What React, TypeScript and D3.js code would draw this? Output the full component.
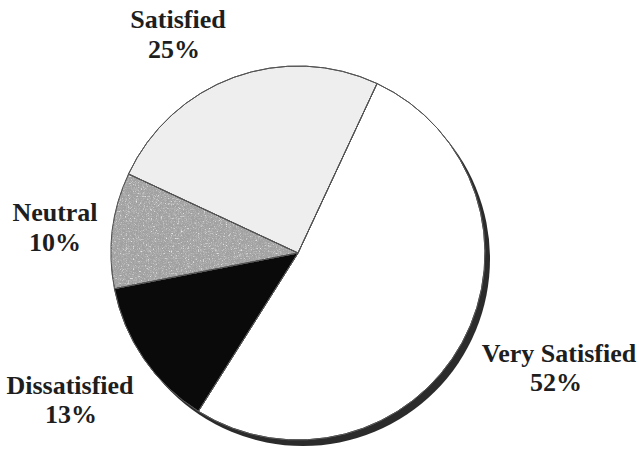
import React from "react";
import * as d3 from "d3";

const categories = ["Very Satisfied", "Dissatisfied", "Neutral", "Satisfied"];
const values = [52, 13, 10, 25];
const valueLabels = ["52%", "13%", "10%", "25%"];

const fills = ["#ffffff", "#0a0a0a", "#a0a0a0", "#eeeeee"];
// label anchor positions [name x, pct x, name baseline, pct baseline]
const labelLayout = [
  [559, 556, 362, 391],
  [70, 71, 394, 423],
  [55, 55, 221, 251],
  [178, 174, 28, 58],
];

const W = 639;
const H = 450;
const cx = 298;
const cy = 253;
const R = 187;

export default function App() {
  const start = (25 * Math.PI) / 180;
  const pie = d3
    .pie<number>()
    .sort(null)
    .value((d) => d)
    .startAngle(start)
    .endAngle(start + 2 * Math.PI);
  const arcs = pie(values);
  const arc = d3.arc<d3.PieArcDatum<number>>().innerRadius(0).outerRadius(R);

  return (
    <svg
      width={W}
      height={H}
      style={{ position: "absolute", left: 0, top: 0, background: "#fff" }}
    >
      <defs>
        <filter id="speckle" x="0" y="0" width="1" height="1">
          <feTurbulence type="fractalNoise" baseFrequency="0.6" numOctaves="3" seed="4" result="t" />
          <feColorMatrix
            in="t"
            type="matrix"
            values="0 0 0 0 0.45  0 0 0 0 0.45  0 0 0 0 0.45  4 0 0 0 -1.9"
            result="dark"
          />
          <feColorMatrix
            in="t"
            type="matrix"
            values="0 0 0 0 0.82  0 0 0 0 0.82  0 0 0 0 0.82  -4 0 0 0 1.6"
            result="light"
          />
          <feMerge result="m">
            <feMergeNode in="SourceGraphic" />
            <feMergeNode in="dark" />
            <feMergeNode in="light" />
          </feMerge>
          <feComposite in="m" in2="SourceGraphic" operator="in" />
        </filter>
      </defs>
      <circle cx={cx + 5} cy={cy + 6} r={R} fill="#2b2b2b" />
      <g transform={`translate(${cx},${cy})`}>
        {arcs.map((a, i) => (
          <path
            key={categories[i]}
            d={arc(a) || ""}
            fill={fills[i]}
            stroke="#444"
            strokeWidth={1}
            filter={i === 2 ? "url(#speckle)" : undefined}
          />
        ))}
        {arcs.map((a, i) => (
          <path
            key={"o" + categories[i]}
            d={arc(a) || ""}
            fill="none"
            stroke="#555"
            strokeWidth={1}
          />
        ))}
      </g>
      <g
        fontFamily="'Liberation Serif', 'Times New Roman', serif"
        fontWeight="bold"
        fontSize={26}
        fill="#1e1e1e"
        textAnchor="middle"
      >
        {categories.map((c, i) => (
          <g key={"l" + c}>
            <text x={labelLayout[i][0]} y={labelLayout[i][2]}>
              {c}
            </text>
            <text x={labelLayout[i][1]} y={labelLayout[i][3]}>
              {valueLabels[i]}
            </text>
          </g>
        ))}
      </g>
    </svg>
  );
}
